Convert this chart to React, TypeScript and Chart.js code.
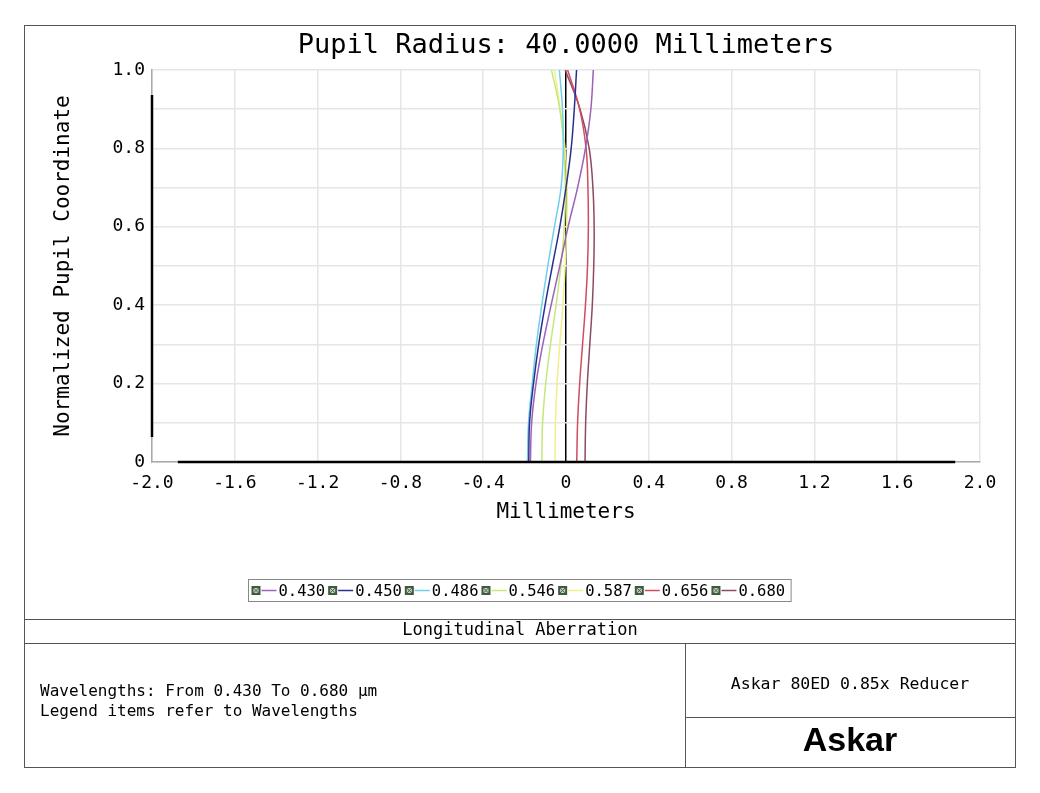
import React, { useEffect, useRef } from "react";
import { Chart, registerables } from "chart.js";

Chart.register(...registerables);

const wavelengths = ["0.430", "0.450", "0.486", "0.546", "0.587", "0.656", "0.680"];
const seriesColors = ["#9a62b8", "#2b2f8f", "#6fd0e8", "#c4e87a", "#f0f08a", "#d04c5e", "#8e4a60"];
const pupil = [0, 0.1, 0.2, 0.3, 0.4, 0.5, 0.6, 0.7, 0.8, 0.9, 1.0];

const shift430 = [-0.172, -0.166, -0.145, -0.112, -0.072, -0.03, 0.01, 0.056, 0.094, 0.12, 0.132];
const shift450 = [-0.18, -0.176, -0.157, -0.132, -0.101, -0.066, -0.03, 0.0, 0.025, 0.04, 0.051];
const shift486 = [-0.186, -0.181, -0.163, -0.143, -0.117, -0.088, -0.056, -0.024, -0.013, -0.017, -0.032];
const shift546 = [-0.117, -0.113, -0.098, -0.075, -0.048, -0.025, -0.008, -0.003, -0.01, -0.03, -0.07];
const shift587 = [-0.053, -0.051, -0.043, -0.03, -0.015, -0.004, 0.003, 0.006, -0.005, -0.028, -0.056];
const shift656 = [0.052, 0.056, 0.066, 0.08, 0.094, 0.104, 0.108, 0.106, 0.097, 0.066, 0.008];
const shift680 = [0.092, 0.095, 0.103, 0.115, 0.127, 0.134, 0.136, 0.13, 0.112, 0.068, -0.004];

const allShifts = [shift430, shift450, shift486, shift546, shift587, shift656, shift680];

const xTickStep = 0.4;
const yTickStep = 0.1;

const titleText = "Pupil Radius: 40.0000 Millimeters";
const xTitle = "Millimeters";
const yTitle = "Normalized Pupil Coordinate";
const footerHeader = "Longitudinal Aberration";
const footerLines = ["Wavelengths: From 0.430 To 0.680 \u00b5m", "Legend items refer to Wavelengths"];
const designName = "Askar 80ED 0.85x Reducer";
const brand = "Askar";

const MONO = "'DejaVu Sans Mono', monospace";

const decorPlugin = {
  id: "decor",
  afterDraw(chart: any) {
    const ctx = chart.ctx as CanvasRenderingContext2D;
    const area = chart.chartArea;
    const xs = chart.scales.x;
    const ys = chart.scales.y;
    const cx = (area.left + area.right) / 2;
    const cy = (area.top + area.bottom) / 2;
    ctx.save();

    // black axis segments
    ctx.strokeStyle = "#000";
    ctx.lineWidth = 2.5;
    ctx.beginPath();
    ctx.moveTo(area.left, ys.getPixelForValue(0.936));
    ctx.lineTo(area.left, ys.getPixelForValue(0.064));
    ctx.stroke();
    ctx.beginPath();
    ctx.moveTo(xs.getPixelForValue(-1.875), area.bottom);
    ctx.lineTo(xs.getPixelForValue(1.88), area.bottom);
    ctx.stroke();

    // title
    ctx.fillStyle = "#000";
    ctx.textAlign = "center";
    ctx.textBaseline = "middle";
    ctx.font = `27px ${MONO}`;
    ctx.fillText(titleText, cx, 46);

    ctx.font = `21px ${MONO}`;
    ctx.fillText(xTitle, cx, 513);
    ctx.save();
    ctx.translate(64, cy);
    ctx.rotate(-Math.PI / 2);
    ctx.fillText(yTitle, 0, 0);
    ctx.restore();

    // legend
    ctx.font = `15.5px ${MONO}`;
    const items = chart.data.datasets.map((d: any) => ({ label: d.label, color: d.borderColor }));
    const itemW = items.map((it: any) => 9 + 2 + 14 + 2 + ctx.measureText(it.label).width + 3);
    const total = itemW.reduce((a: number, b: number) => a + b, 0);
    const boxW = total + 6;
    const boxL = Math.round(519.5 - boxW / 2) + 0.5;
    const boxT = 579.5;
    const boxH = 22;
    ctx.strokeStyle = "#888";
    ctx.lineWidth = 1;
    ctx.strokeRect(boxL, boxT, boxW, boxH);
    let x = boxL + 3;
    const my = boxT + boxH / 2;
    ctx.textAlign = "left";
    items.forEach((it: any, i: number) => {
      ctx.fillStyle = "#3f5a3f";
      ctx.fillRect(x, my - 4.5, 9, 9);
      ctx.fillStyle = "#c9d6c2";
      ctx.fillRect(x + 2, my - 2.5, 5, 5);
      ctx.strokeStyle = "#3f5a3f";
      ctx.lineWidth = 1;
      ctx.beginPath();
      ctx.moveTo(x + 2, my - 2.5);
      ctx.lineTo(x + 7, my + 2.5);
      ctx.moveTo(x + 7, my - 2.5);
      ctx.lineTo(x + 2, my + 2.5);
      ctx.stroke();
      ctx.strokeStyle = it.color;
      ctx.lineWidth = 1.5;
      ctx.beginPath();
      ctx.moveTo(x + 10, my);
      ctx.lineTo(x + 25, my);
      ctx.stroke();
      ctx.fillStyle = "#000";
      ctx.fillText(it.label, x + 27, my + 1);
      x += itemW[i];
    });

    // footer frame
    ctx.strokeStyle = "#555";
    ctx.lineWidth = 1;
    ctx.strokeRect(24.5, 25.5, 991, 742);
    ctx.beginPath();
    ctx.moveTo(24.5, 619.5);
    ctx.lineTo(1015.5, 619.5);
    ctx.moveTo(24.5, 643.5);
    ctx.lineTo(1015.5, 643.5);
    ctx.moveTo(685.5, 643.5);
    ctx.lineTo(685.5, 767.5);
    ctx.moveTo(685.5, 717.5);
    ctx.lineTo(1015.5, 717.5);
    ctx.stroke();

    ctx.fillStyle = "#000";
    ctx.textAlign = "center";
    ctx.font = `17px ${MONO}`;
    ctx.fillText(footerHeader, 520, 631);
    ctx.font = `16.5px ${MONO}`;
    ctx.fillText(designName, 850, 685);
    ctx.textAlign = "left";
    ctx.font = `16px ${MONO}`;
    ctx.fillText(footerLines[0], 40, 692);
    ctx.fillText(footerLines[1], 40, 712);

    ctx.textAlign = "center";
    ctx.font = `bold 34px 'Liberation Sans', Arial, sans-serif`;
    ctx.fillText(brand, 850, 742);
    ctx.restore();
  },
};

const fmt = (v: number) => {
  const r = Math.round(v * 10) / 10;
  return r === 0 ? "0" : r.toFixed(1);
};

export default function App() {
  const ref = useRef<HTMLCanvasElement | null>(null);
  useEffect(() => {
    if (!ref.current) return;
    const datasets = wavelengths.map((w, i) => ({
      label: w,
      data: pupil.map((p, j) => ({ x: allShifts[i][j], y: p })),
      borderColor: seriesColors[i],
      backgroundColor: seriesColors[i],
      borderWidth: 1.5,
      pointRadius: 0,
      showLine: true,
      tension: 0.4,
      fill: false,
    }));
    const chart = new Chart(ref.current, {
      type: "scatter",
      data: { datasets },
      options: {
        responsive: false,
        animation: false,
        devicePixelRatio: 1,
        layout: { padding: { left: 0, top: 70, right: 60, bottom: 271 } },
        plugins: { legend: { display: false }, tooltip: { enabled: false }, title: { display: false } },
        scales: {
          x: {
            type: "linear",
            min: -2,
            max: 2,
            afterFit: (s: any) => {
              s.height = 60;
            },
            ticks: {
              stepSize: xTickStep,
              padding: 11,
              color: "#000",
              font: { family: MONO, size: 18 },
              maxRotation: 0,
              autoSkip: false,
              callback: (v: any) => fmt(Number(v)),
            },
            grid: {
              drawTicks: false,
              lineWidth: 1.5,
              color: (c: any) => (c.tick && Math.abs(c.tick.value) < 1e-9 ? "#000" : "#e6e6e6"),
            },
            border: { display: true, color: "#aaa", width: 1.5 },
          },
          y: {
            type: "linear",
            min: 0,
            max: 1,
            afterFit: (s: any) => {
              s.width = 152;
            },
            ticks: {
              stepSize: yTickStep,
              padding: 7,
              color: "#000",
              font: { family: MONO, size: 18 },
              autoSkip: false,
              callback: (v: any) => {
                const k = Math.round(Number(v) * 10);
                return k % 2 === 0 ? fmt(Number(v)) : "";
              },
            },
            grid: { drawTicks: false, lineWidth: 1.5, color: "#e6e6e6" },
            border: { display: true, color: "#aaa", width: 1.5 },
          },
        },
      },
      plugins: [decorPlugin],
    });
    return () => chart.destroy();
  }, []);
  return (
    <div style={{ position: "absolute", left: 0, top: 0, width: 1040, height: 793, background: "#fff" }}>
      <canvas ref={ref} width={1040} height={793} style={{ display: "block" }} />
    </div>
  );
}
